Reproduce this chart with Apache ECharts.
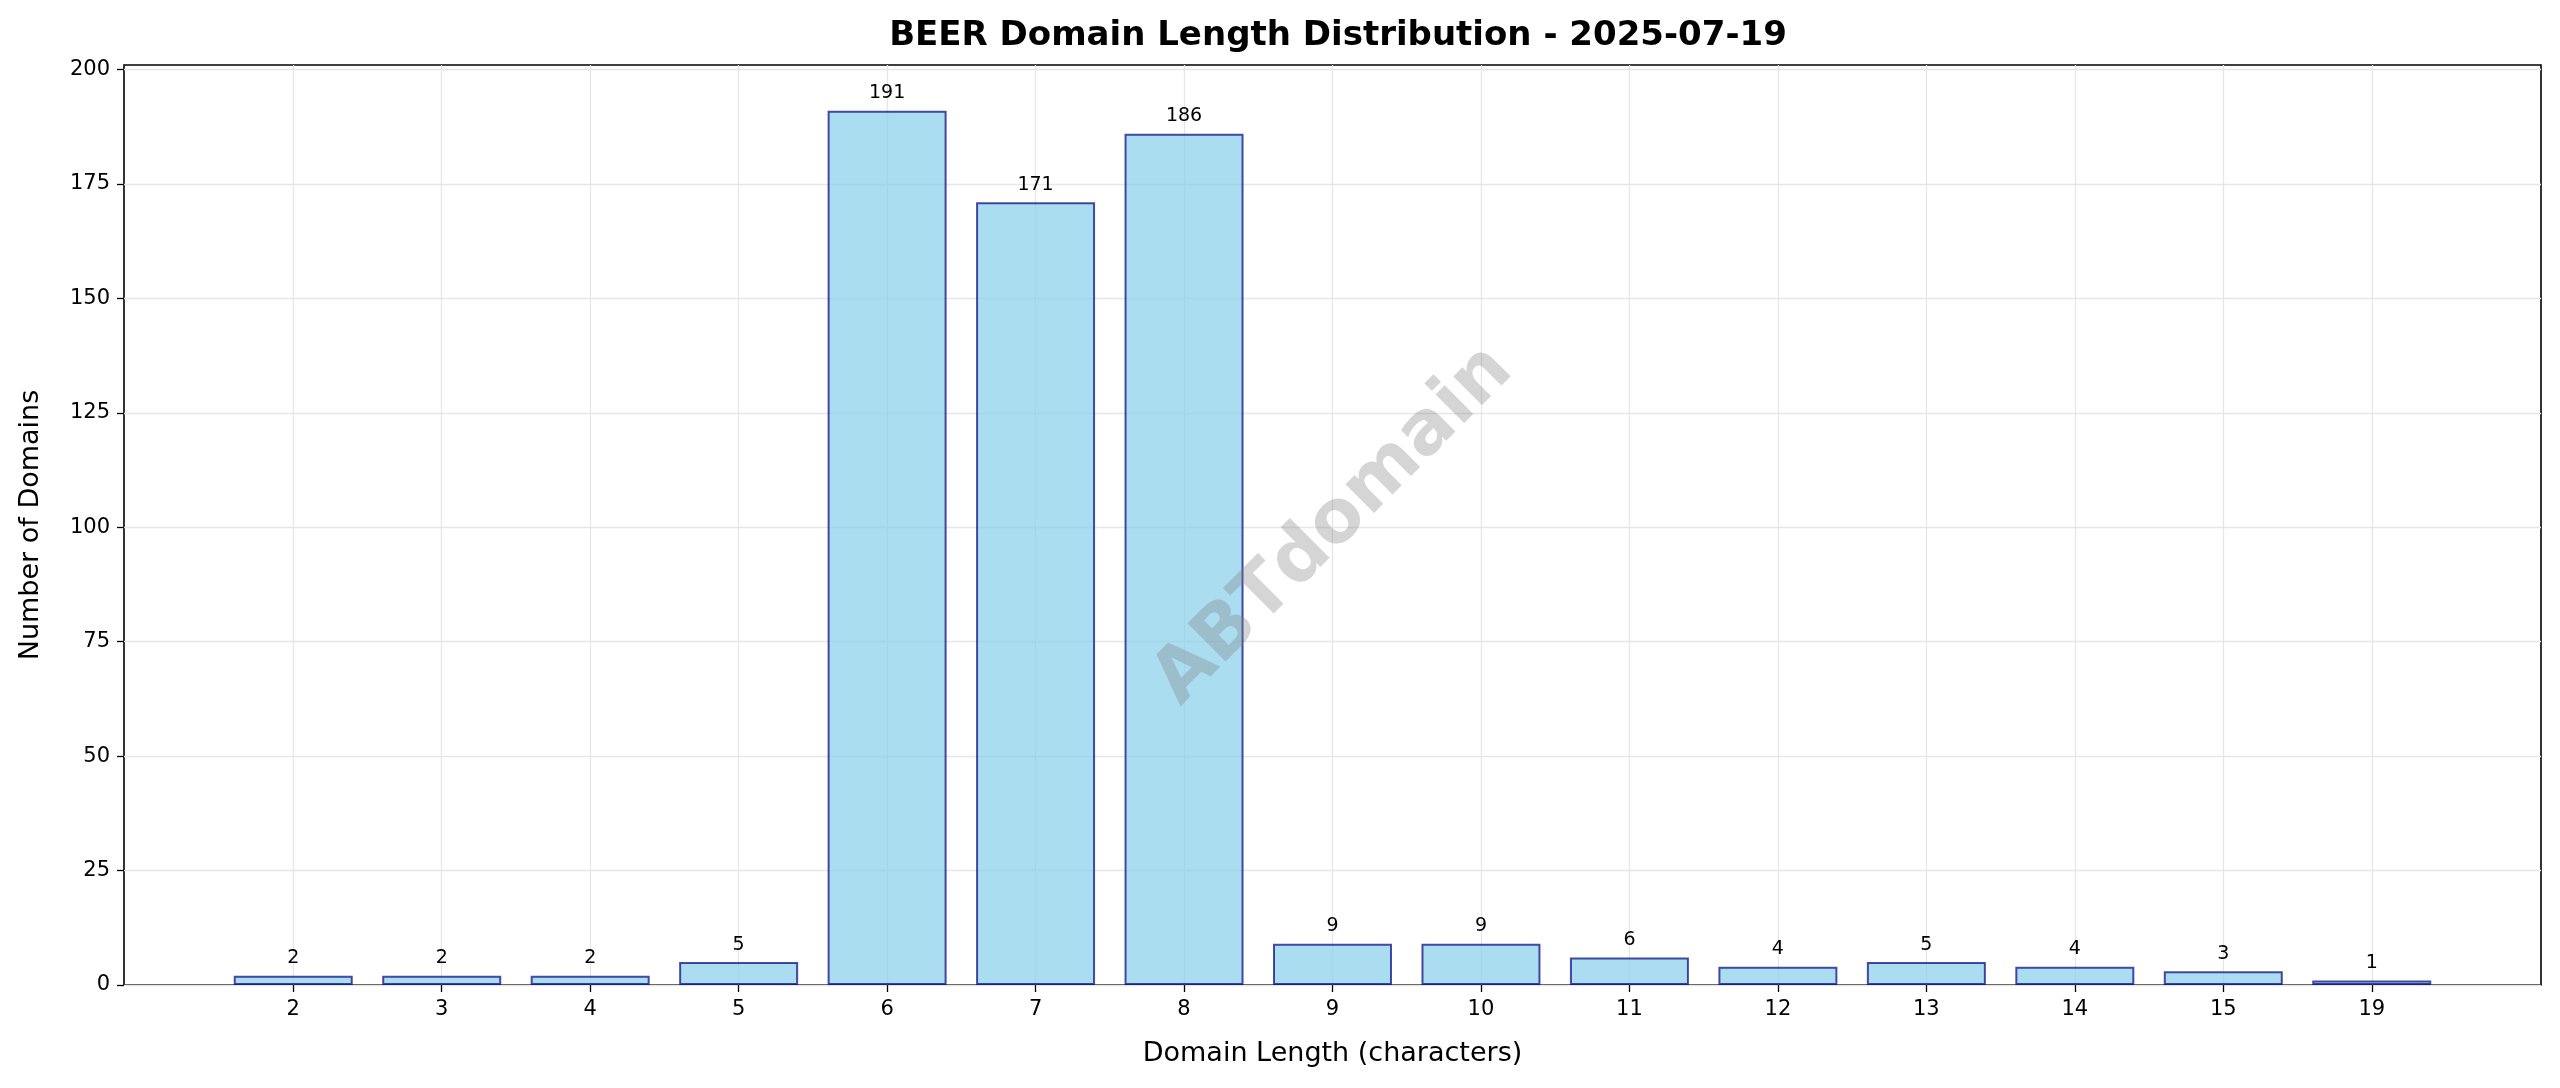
<!DOCTYPE html>
<html><head><meta charset="utf-8">
<script src="https://cdn.jsdelivr.net/npm/echarts@6/dist/echarts.min.js"></script>
<style>html,body{margin:0;padding:0;background:#fff}#c{width:2560px;height:1088px}</style>
</head><body><div id="c"></div>
<script>
const categories = ['2','3','4','5','6','7','8','9','10','11','12','13','14','15','19'];
const counts = [2,2,2,5,191,171,186,9,9,6,4,5,4,3,1];
const yTicks = [0,25,50,75,100,125,150,175,200];
const idx = categories.map((c,i)=>i);
const chart = echarts.init(document.getElementById('c'));
const font = 'DejaVu Sans';
chart.setOption({
  animation:false,
  textStyle:{fontFamily:font},
  title:{text:'BEER Domain Length Distribution - 2025-07-19',left:1333,top:14,textAlign:'center',
    textStyle:{fontSize:34,fontWeight:'bold',color:'#000',fontFamily:font}},
  grid:{left:124,right:19,top:65,bottom:103,show:true,borderColor:'#000',borderWidth:1.6},
  xAxis:{type:'value',min:-1.14,max:15.14,
    name:'Domain Length (characters)',nameLocation:'middle',nameGap:55,
    nameTextStyle:{fontSize:27,color:'#000',fontFamily:font},
    axisLine:{show:false,onZero:false},
    axisTick:{show:true,customValues:idx,length:7,lineStyle:{color:'#000',width:1.3}},
    axisLabel:{customValues:idx,formatter:v=>categories[Math.round(v)],fontSize:21,color:'#000',margin:14},
    splitLine:{show:true,lineStyle:{color:'#e6e6e6',width:1.3}}},
  yAxis:{type:'value',min:0,max:201,
    name:'Number of Domains',nameLocation:'middle',nameGap:80,
    nameTextStyle:{fontSize:27,color:'#000',fontFamily:font},
    axisLine:{show:false,onZero:false},
    axisTick:{show:true,customValues:yTicks,length:7,lineStyle:{color:'#000',width:1.3}},
    axisLabel:{customValues:yTicks,fontSize:21,color:'#000',margin:14},
    splitLine:{show:true,lineStyle:{color:'#e6e6e6',width:1.3}}},
  graphic:[{type:'text',x:1334,y:526,rotation:Math.PI/4,
    style:{text:'ABTdomain',fontSize:74,fontWeight:'bold',fill:'rgba(128,128,128,0.33)',fontFamily:font,
      align:'center',verticalAlign:'middle'},
    z:100}],
  series:[{type:'bar',barWidth:119,
    data:counts.map((v,i)=>[i,v]),
    itemStyle:{color:'rgba(135,206,235,0.7)',borderColor:'rgba(0,0,128,0.7)',borderWidth:2},
    label:{show:true,position:'top',distance:8,fontSize:19,color:'#000',formatter:p=>p.value[1]}}]
});
</script></body></html>
